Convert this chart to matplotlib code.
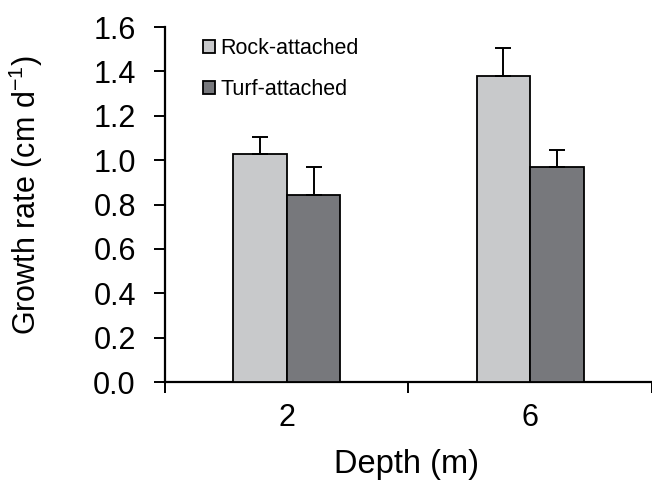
import matplotlib
matplotlib.use("Agg")
import matplotlib.pyplot as plt
import numpy as np

plt.rcParams["font.family"] = ["Liberation Sans", "DejaVu Sans"]
plt.rcParams["mathtext.fontset"] = "custom"
plt.rcParams["mathtext.rm"] = "Liberation Sans"
plt.rcParams["mathtext.it"] = "Liberation Sans"

depths = ["2", "6"]
rock_mean = [1.03, 1.38]
rock_err = [0.075, 0.125]
turf_mean = [0.845, 0.97]
turf_err = [0.125, 0.075]

ROCK_COLOR = "#c8c9cb"
TURF_COLOR = "#77787c"

fig = plt.figure(figsize=(6.52, 4.83), dpi=100)
ax = fig.add_axes([0.253, 0.209, 0.747, 0.735])

x = np.arange(len(depths))
width = 0.22
err_kw = dict(ecolor="black", elinewidth=1.4, capsize=6, capthick=1.4)
ax.bar(x - width / 2, rock_mean, width, color=ROCK_COLOR, edgecolor="black", linewidth=1.3,
       yerr=[np.zeros(len(rock_err)), rock_err], error_kw=err_kw, label="Rock-attached", zorder=3)
ax.bar(x + width / 2, turf_mean, width, color=TURF_COLOR, edgecolor="black", linewidth=1.3,
       yerr=[np.zeros(len(turf_err)), turf_err], error_kw=err_kw, label="Turf-attached", zorder=3)

ax.set_xlim(-0.5, len(depths) - 0.5)
ax.set_ylim(0, 1.6)
ticks = np.arange(0, 1.61, 0.2)
ax.set_yticks(ticks)
ax.set_yticklabels([f"{v:.1f}" for v in ticks])
ax.set_xticks(x)
ax.set_xticklabels(depths)
ax.set_xticks(np.arange(-0.5, len(depths), 1.0), minor=True)
ax.tick_params(axis="x", which="major", length=0, pad=15, labelsize=22)
ax.tick_params(axis="x", which="minor", length=8, width=1.4, direction="out")
ax.tick_params(axis="y", length=8, width=1.4, direction="out", labelsize=22, pad=13)

for side in ("top", "right"):
    ax.spines[side].set_visible(False)
for side in ("left", "bottom"):
    ax.spines[side].set_linewidth(1.6)

ax.set_xlabel("Depth (m)", fontsize=23.5)
ax.set_ylabel(r"Growth rate (cm d$^{\mathregular{-1}}$)", fontsize=22)
ax.xaxis.set_label_coords(0.495, -0.188)
ax.yaxis.set_label_coords(-0.247, 0.527)

ax.legend(loc="upper left", bbox_to_anchor=(0.078, 0.968), frameon=False, fontsize=15.5,
          handlelength=0.55, handleheight=0.55, handletextpad=0.25, labelspacing=0.9,
          borderaxespad=0, borderpad=0)

fig.savefig("out.png", dpi=100)
